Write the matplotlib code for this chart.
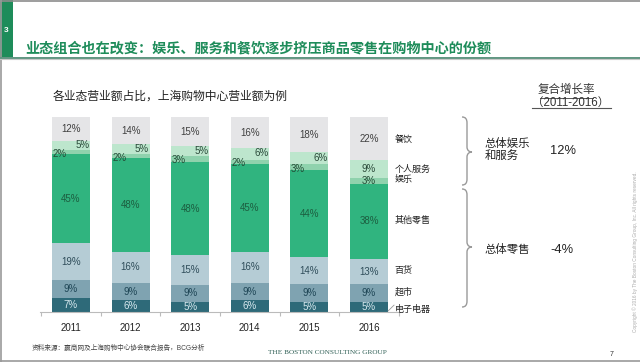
import matplotlib
matplotlib.use("Agg")
import matplotlib.pyplot as plt
import numpy as np
from matplotlib.path import Path
from matplotlib.patches import PathPatch, Rectangle

plt.rcParams['font.family'] = ['Liberation Sans', 'Noto Sans CJK SC', 'DejaVu Sans']

years = ['2011', '2012', '2013', '2014', '2015', '2016']
electronics = [7, 6, 5, 6, 5, 5]
supermarket = [9, 9, 9, 9, 9, 9]
department = [19, 16, 15, 16, 14, 13]
other_retail = [45, 48, 48, 45, 44, 38]
entertainment = [2, 2, 3, 2, 3, 3]
personal = [5, 5, 5, 6, 6, 9]
dining = [12, 14, 15, 16, 18, 22]

series = [electronics, supermarket, department, other_retail, entertainment, personal, dining]
names = ['电子电器', '超市', '百货', '其他零售', '娱乐', '个人服务', '餐饮']
colors = ['#2E6A79', '#7FA3B1', '#B5CCD5', '#30B47F', '#8FD2AD', '#BDE6CD', '#E5E5E7']
txt_colors = ['#D6E8EE', '#1F4656', '#2F4D5A', '#1C5E40', '#234A35', '#2B4A3A', '#404040']

fig = plt.figure(figsize=(6.4, 3.62), dpi=100)
W, H = 640, 362

# bar axes: x px 40..400, y px 117..312
ax = fig.add_axes([40 / W, 1 - 312 / H, 360 / W, 195 / H])
data = np.array(series, dtype=float)
totals = data.sum(axis=0)
norm = data / totals * 100
x = np.arange(len(years))
bottom = np.zeros(len(years))
bw = 0.64
centers = []
for k in range(len(series)):
    ax.bar(x, norm[k], bw, bottom=bottom, color=colors[k], edgecolor='none')
    centers.append(bottom + norm[k] / 2)
    for i in range(len(years)):
        xi = x[i]
        yi = bottom[i] + norm[k][i] / 2
        ha = 'center'
        if i < 5 and k == 5:  # personal services, right side
            xi = x[i] + 0.19
            yi = yi + 0.3
        if i < 5 and k == 4:  # entertainment, left side
            xi = x[i] - 0.19
            yi = yi - 0.8
        ax.text(xi, yi, f'{series[k][i]}%', ha='center', va='center',
                fontsize=7, color=txt_colors[k])
    bottom = bottom + norm[k]
centers = np.array(centers)

ax.set_xlim(-0.52, 5.52)
ax.set_ylim(0, 100)
for s in ['top', 'right', 'left']:
    ax.spines[s].set_visible(False)
ax.spines['bottom'].set_color('#BBBBBB')
ax.spines['bottom'].set_linewidth(0.8)
ax.set_yticks([])
ax.set_xticks(x, years)
ax.tick_params(axis='x', length=0, pad=8, labelsize=7, labelcolor='#222222')
ax.set_xticks(np.arange(-0.5, 6, 1), minor=True)
ax.tick_params(axis='x', which='minor', length=3, color='#BBBBBB', width=0.8)

# category labels to the right of the 2016 bar
lab_adj = [-1.0, 0.5, 0.5, 0.5, 0.8, 0, -0.5]
for k in range(len(series)):
    ax.text(5.43, centers[k][5] + lab_adj[k], names[k], ha='left', va='center',
            fontsize=6.5, color='#222222', clip_on=False)
ax.plot([5.32, 5.42], [centers[0][5] - 2.0, centers[0][5] + 1.0], color='#999999',
        lw=0.6, clip_on=False)

# overlay in pixel coordinates for annotations
ov = fig.add_axes([0, 0, 1, 1], facecolor='none')
ov.set_xlim(0, W)
ov.set_ylim(H, 0)
ov.axis('off')

# frame and header decoration
ov.plot([0, W], [0.6, 0.6], color='#8C8C8C', lw=1.2)
ov.plot([0.8, 0.8], [0, H], color='#9A9A9A', lw=1.2)
ov.plot([0, W], [360.5, 360.5], color='#9A9A9A', lw=1.2)
ov.add_patch(Rectangle((0, 0), 12.5, 57, color='#1E8C5A', lw=0))
ov.text(6, 30, '3', color='white', fontsize=6, fontweight='bold', ha='center', va='center')
ov.plot([0, W], [57.5, 57.5], color='#5E9580', lw=1.4)
ov.plot([0, W], [59, 59], color='#C8C8C8', lw=0.8)

ov.text(25, 48, '业态组合也在改变：娱乐、服务和餐饮逐步挤压商品零售在购物中心的份额',
        fontsize=10.2, color='#1E8C5A', fontweight='bold', ha='left', va='center')
ov.text(53, 97, '各业态营业额占比，上海购物中心营业额为例', fontsize=8.5,
        color='#222222', ha='left', va='center')

# CAGR header
ov.text(566, 90, '复合增长率', fontsize=8.3, color='#333333', ha='center', va='center')
ov.plot([540, 593], [97.5, 97.5], color='#555555', lw=0.7)
ov.text(571, 103, '（2011-2016）', fontsize=8.3, color='#333333', ha='center', va='center')
ov.plot([532, 611], [107.5, 107.5], color='#555555', lw=0.8)


def brace(x0, top, bot, tip):
    xl = x0 + 5
    xt = x0 + 10
    verts = [(x0, top), (x0 + 3.5, top), (xl, top + 2), (xl, top + 6),
             (xl, tip - 5),
             (xl, tip - 2), (xl + 2, tip), (xt, tip),
             (xl + 2, tip), (xl, tip + 2), (xl, tip + 5),
             (xl, bot - 6),
             (xl, bot - 2), (x0 + 3.5, bot), (x0, bot)]
    codes = [Path.MOVETO, Path.CURVE4, Path.CURVE4, Path.CURVE4,
             Path.LINETO,
             Path.CURVE4, Path.CURVE4, Path.CURVE4,
             Path.CURVE4, Path.CURVE4, Path.CURVE4,
             Path.LINETO,
             Path.CURVE4, Path.CURVE4, Path.CURVE4]
    ov.add_patch(PathPatch(Path(verts, codes), facecolor='none', edgecolor='#9A9A9A', lw=1.0))


brace(462, 117, 185, 152)
brace(462, 189, 307, 247)

ov.text(485, 150, '总体娱乐\n和服务', fontsize=8.2, color='#222222', ha='left', va='center',
        linespacing=1.15)
ov.text(550, 151, '12%', fontsize=9.3, color='#222222', ha='left', va='center')
ov.text(485, 250, '总体零售', fontsize=8.2, color='#222222', ha='left', va='center')
ov.text(550, 250, '-4%', fontsize=9.3, color='#222222', ha='left', va='center')

# footer
ov.text(32, 348, '资料来源：赢商网及上海购物中心协会联合报告，BCG分析', fontsize=4.8,
        color='#444444', ha='left', va='center')
ov.text(268, 353, 'THE BOSTON CONSULTING GROUP', fontsize=5.2, color='#2F5F55',
        family='Liberation Serif', ha='left', va='center')
ov.text(612, 355, '7', fontsize=5, color='#333333', ha='center', va='center')
ov.text(635, 252, 'Copyright © 2016 by The Boston Consulting Group, Inc. All rights reserved.',
        fontsize=3.4, color='#AAAAAA', rotation=90, ha='center', va='center')

fig.savefig('out.png', dpi=100)
